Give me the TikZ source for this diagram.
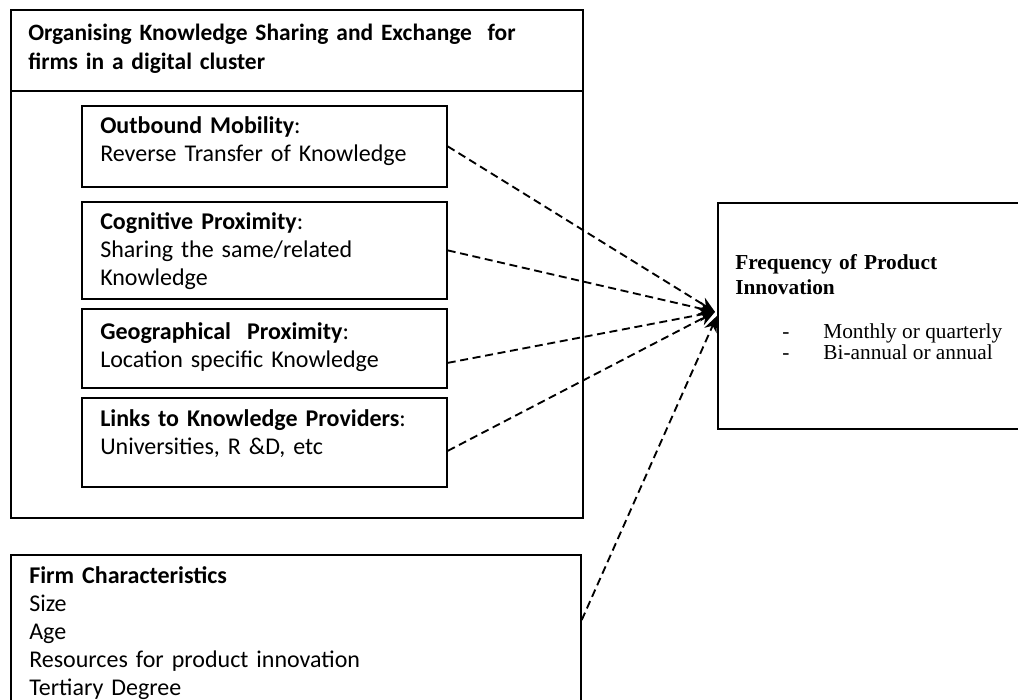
\documentclass[tikz,border=0pt]{standalone}
\usepackage{fontspec}
\setmainfont{Liberation Serif}
\newfontfamily\calibri{Carlito}
\usepackage{tikz}
\usetikzlibrary{shapes, arrows, arrows.meta, calc, positioning}

\begin{document}
\begin{tikzpicture}[x=0.75pt, y=-0.75pt, >={Stealth[length=12pt, width=10pt]}]
	\tikzstyle{frame} = [draw, line width=1.3pt, rectangle, anchor=north west, inner sep=0pt]
	\tikzstyle{words} = [anchor=base west, inner sep=0pt, text width=15cm, align=left, font=\calibri\fontsize{18}{21}\selectfont]
	\tikzstyle{link} = [->, line width=1.4pt, dash pattern=on 6pt off 3.5pt]

	\useasboundingbox (0,0) rectangle (1018,700);

	% cluster frame and its heading
	\node[frame, minimum width=429pt, minimum height=381pt] (1) at (10,9) {};
	\node[frame, minimum width=429pt, minimum height=60.75pt] (head) at (10,9) {};
	\node[words, font=\calibri\bfseries\fontsize{17.6}{21.75}\selectfont] (t0) at (28,40)
		{Organising Knowledge Sharing and Exchange \ for\\firms in a digital cluster};

	% the four channels
	\node[frame, minimum width=273.75pt, minimum height=60.75pt] (2) at (81,105) {};
	\node[frame, minimum width=273.75pt, minimum height=72.75pt] (3) at (81,201) {};
	\node[frame, minimum width=273.75pt, minimum height=59.25pt] (4) at (81,308) {};
	\node[frame, minimum width=273.75pt, minimum height=66.75pt] (5) at (81,397) {};

	\node[words] (t2) at (100,133) {\textbf{Outbound Mobility}:\\Reverse Transfer of Knowledge};
	\node[words] (t3) at (100,229) {\textbf{Cognitive Proximity}:\\Sharing the same/related\\Knowledge};
	\node[words] (t4) at (100,339) {\textbf{Geographical \ Proximity}:\\Location specific Knowledge};
	\node[words] (t5) at (100,426) {\textbf{Links to Knowledge Providers}:\\Universities, R \&D, etc};

	% outcome
	\node[frame, minimum width=228pt, minimum height=169.5pt] (6) at (717,202) {};
	\node[anchor=base west, inner sep=0pt, text width=7cm, align=left,
		font=\bfseries\fontsize{16}{18.75}\selectfont] (t6) at (735,269)
		{Frequency of Product\\Innovation};
	\node[anchor=base west, inner sep=0pt, font=\fontsize{16}{15.75}\selectfont] (t7) at (782,338)
		{\begin{tabular}[t]{@{}l@{\hspace{25.5pt}}l@{}}
			- & Monthly or quarterly\\
			- & Bi-annual or annual
		\end{tabular}};

	% controls
	\node[frame, minimum width=427.5pt, minimum height=120pt] (7) at (10,554) {};
	\node[words] (t8) at (29,583)
		{\textbf{Firm Characteristics}\\Size\\Age\\Resources for product innovation\\Tertiary Degree};

	\coordinate (hub) at ($(6.west)+(-2,-4)$);
	\path[link]
		(2.east) edge (hub)
		(3.east) edge (hub)
		($(4.east)+(0,14.5)$) edge (hub)
		($(5.east)+(0,8.5)$) edge (hub)
		($(7.north east)+(0,66)$) edge (6.west)
	;
\end{tikzpicture}
\end{document}
